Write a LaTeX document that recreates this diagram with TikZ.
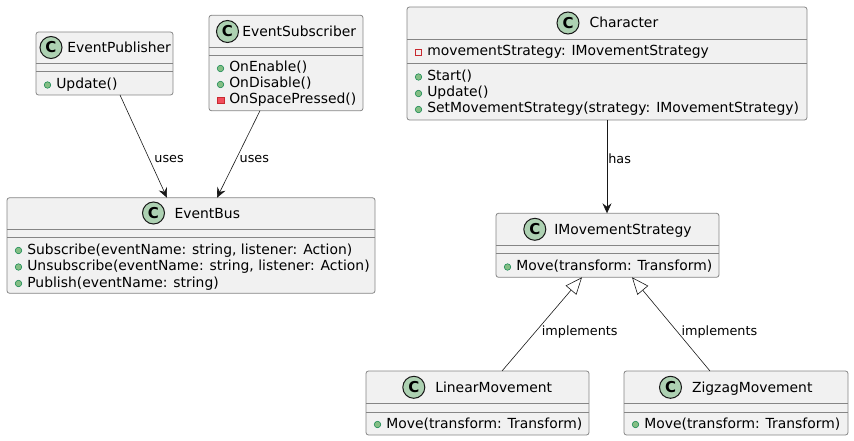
\documentclass[tikz,border=0pt]{standalone}
\usepackage{fontspec}
\setmainfont{DejaVu Sans}
\usetikzlibrary{arrows.meta,positioning}
\definecolor{umlline}{HTML}{181818}
\definecolor{boxline}{HTML}{858585}
\definecolor{clsfill}{HTML}{F1F1F1}
\definecolor{iconfill}{HTML}{ADD1B2}
\definecolor{plusfill}{HTML}{84BE84}
\definecolor{plusline}{HTML}{038048}
\definecolor{minusfill}{HTML}{F24D5C}
\definecolor{minusline}{HTML}{C82930}
\tikzset{
  cls/.style={draw=boxline,fill=clsfill,line width=.8pt,rounded corners=2.5pt,inner sep=0pt,outer sep=0pt},
  sep/.style={draw=boxline,line width=.8pt},
  icon/.style={circle,draw=umlline,fill=iconfill,line width=1pt,minimum size=22pt,inner sep=0pt,font=\fontsize{15}{15}\selectfont\bfseries},
  member/.style={anchor=west,inner sep=0pt,text height=10pt,text depth=3pt,font=\fontsize{13.9}{16}\selectfont},
  plusmark/.style={circle,draw=plusline,fill=plusfill,minimum size=6.5pt,inner sep=0pt,line width=.5pt},
  minusmark/.style={rectangle,draw=minusline,fill=minusfill,minimum size=6.5pt,inner sep=0pt,line width=.5pt},
  minusfield/.style={rectangle,draw=minusline,fill=none,minimum size=6.5pt,inner sep=0pt,line width=.6pt},
  pm/.style={member,label={[plusmark,label distance=5pt]left:{}}},
  mm/.style={member,label={[minusmark,label distance=5pt]left:{}}},
  mf/.style={member,label={[minusfield,label distance=5pt]left:{}}},
  lbl/.style={font=\fontsize{12.8}{15}\selectfont,inner sep=0pt,text=black}
}
\begin{document}
\begin{tikzpicture}[x=1pt,y=-1pt,>={Stealth[length=10pt,width=9pt,inset=3.5pt]},line width=.6pt]
  \useasboundingbox (0,0) rectangle (854,441);

  % EventPublisher
  \node[cls,minimum width=137,minimum height=63] (pub) at (104.5,63.5) {};
  \draw[sep] (36,63) -- (173,63) (36,71) -- (173,71);
  \node[icon] (pubC) at (51,47.5) {C};
  \node[member] (pubT) at (67,49) {EventPublisher};
  \node[pm] (pubUpdate) at (56,85) {Update()};

  % EventSubscriber
  \node[cls,minimum width=154,minimum height=95.5] (sub) at (286,63) {};
  \draw[sep] (209,47.3) -- (363,47.3) (209,55.7) -- (363,55.7);
  \node[icon] (subC) at (227.5,31.5) {C};
  \node[member] (subT) at (242,33) {EventSubscriber};
  \node[pm] (subEnable) at (229,68.5) {OnEnable()};
  \node[pm] (subDisable) at (229,84.5) {OnDisable()};
  \node[mm] (subSpace) at (229,100.5) {OnSpacePressed()};

  % EventBus
  \node[cls,minimum width=368,minimum height=95.5] (bus) at (191,245.5) {};
  \draw[sep] (7,229.3) -- (375,229.3) (7,237) -- (375,237);
  \node[icon] (busC) at (153.5,213) {C};
  \node[member] (busT) at (174.3,214.5) {EventBus};
  \node[pm] (busSub) at (27,250.5) {Subscribe(eventName: string, listener: Action)};
  \node[pm] (busUnsub) at (27,267) {Unsubscribe(eventName: string, listener: Action)};
  \node[pm] (busPub) at (27,283.5) {Publish(eventName: string)};

  % Character
  \node[cls,minimum width=400,minimum height=113] (char) at (607,63.5) {};
  \draw[sep] (407,39.3) -- (807,39.3) (407,63.3) -- (807,63.3);
  \node[icon] (charC) at (568,23) {C};
  \node[member] (charT) at (589.3,24.5) {Character};
  \node[mf] (charField) at (427,52.5) {movementStrategy: IMovementStrategy};
  \node[pm] (charStart) at (427,77) {Start()};
  \node[pm] (charUpdate) at (427,93.5) {Update()};
  \node[pm] (charSet) at (427,109.5) {SetMovementStrategy(strategy: IMovementStrategy)};

  % IMovementStrategy
  \node[cls,minimum width=223,minimum height=64] (ims) at (607.5,245.3) {};
  \draw[sep] (496,245.7) -- (719,245.7) (496,253.3) -- (719,253.3);
  \node[icon] (imsC) at (534.8,229.3) {C};
  \node[member] (imsT) at (554,230.8) {IMovementStrategy};
  \node[pm] (imsMove) at (516,267) {Move(transform: Transform)};

  % LinearMovement
  \node[cls,minimum width=223,minimum height=64] (lin) at (477.5,403) {};
  \draw[sep] (366,403.3) -- (589,403.3) (366,412) -- (589,412);
  \node[icon] (linC) at (413.8,387.3) {C};
  \node[member] (linT) at (435,388.8) {LinearMovement};
  \node[pm] (linMove) at (386,424.5) {Move(transform: Transform)};

  % ZigzagMovement
  \node[cls,minimum width=224,minimum height=64] (zig) at (736,403) {};
  \draw[sep] (624,403.3) -- (848,403.3) (624,412) -- (848,412);
  \node[icon] (zigC) at (670.5,387.3) {C};
  \node[member] (zigT) at (691.7,388.8) {ZigzagMovement};
  \node[pm] (zigMove) at (644,424.5) {Move(transform: Transform)};

  \path[->,color=umlline]
  (pub.south -| 120,0) edge node[lbl,pos=.62,right=5pt] {uses} (bus.north -| 167,0)
  (sub.south -| 260,0) edge node[lbl,pos=.55,right=3pt] {uses} (bus.north -| 217,0)
  (char.south) edge node[lbl,pos=.41,right=1pt] {has} (ims.north -| char.south)
  ;
  \path[-{Triangle[length=17pt,width=14pt,fill=white]},color=umlline]
  (lin.north -| 502,0) edge node[lbl,pos=.42,right=6pt] {implements} (ims.south -| 582,0)
  (zig.north -| 710,0) edge node[lbl,pos=.42,right=4pt] {implements} (ims.south -| 632,0)
  ;
\end{tikzpicture}
\end{document}
